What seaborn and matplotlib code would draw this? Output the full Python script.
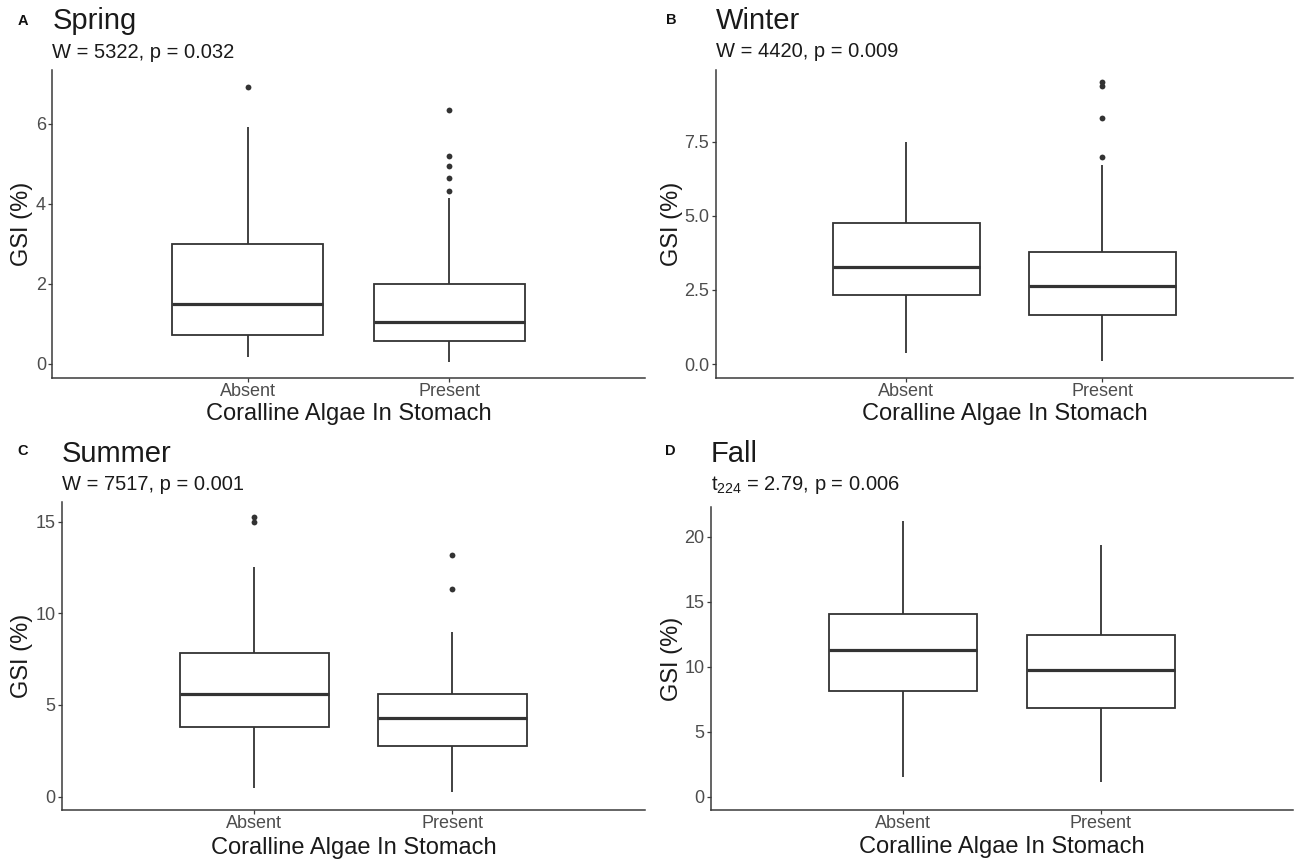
import matplotlib
matplotlib.use("Agg")
import matplotlib.pyplot as plt
import numpy as np
import pandas as pd
import seaborn as sns

# ---- data: five-number summaries (lower whisker, Q1, median, Q3, upper whisker) ----
GROUPS = ["Absent", "Present"]

spring_absent = [0.18, 0.72, 1.50, 2.99, 5.93]
spring_present = [0.06, 0.575, 1.06, 2.00, 4.14]
spring_absent_out = [6.93]
spring_present_out = [4.32, 4.65, 4.95, 5.20, 6.35]

winter_absent = [0.36, 2.32, 3.28, 4.77, 7.50]
winter_present = [0.11, 1.64, 2.64, 3.78, 6.71]
winter_absent_out = []
winter_present_out = [6.99, 8.30, 9.38, 9.50]

summer_absent = [0.46, 3.82, 5.59, 7.86, 12.51]
summer_present = [0.27, 2.78, 4.29, 5.59, 9.00]
summer_absent_out = [14.97, 15.24]
summer_present_out = [11.31, 13.17]

fall_absent = [1.49, 8.13, 11.28, 14.03, 21.23]
fall_present = [1.15, 6.85, 9.72, 12.44, 19.36]
fall_absent_out = []
fall_present_out = []

letters = ["A", "B", "C", "D"]
seasons = ["Spring", "Winter", "Summer", "Fall"]
stats_text = ["W = 5322, p = 0.032", "W = 4420, p = 0.009",
              "W = 7517, p = 0.001", r"t$_{\mathregular{224}}$ = 2.79, p = 0.006"]
yticks = [[0, 2, 4, 6], [0.0, 2.5, 5.0, 7.5], [0, 5, 10, 15], [0, 5, 10, 15, 20]]
ytick_fmt = ["{:.0f}", "{:.1f}", "{:.0f}", "{:.0f}"]
ylims = [(-0.36, 7.35), (-0.48, 9.92), (-0.73, 16.09), (-1.02, 22.26)]

summaries = [(spring_absent, spring_present), (winter_absent, winter_present),
             (summer_absent, summer_present), (fall_absent, fall_present)]
outliers = [(spring_absent_out, spring_present_out), (winter_absent_out, winter_present_out),
            (summer_absent_out, summer_present_out), (fall_absent_out, fall_present_out)]

# ---- style ----
sns.set_theme(style="ticks")
plt.rcParams["font.family"] = ["Liberation Sans", "DejaVu Sans"]
plt.rcParams["mathtext.fontset"] = "custom"
plt.rcParams["mathtext.rm"] = "Liberation Sans"
plt.rcParams["mathtext.it"] = "Liberation Sans:italic"

EDGE = "#333333"
AXIS = "#3a3a3a"
TICKTXT = "#4d4d4d"

W, H = 1295, 859
fig = plt.figure(figsize=(W / 100, H / 100), dpi=100)
fig.patch.set_facecolor("white")

# panel boxes in pixels: left, right, top, bottom
boxes = [(52.3, 645, 70, 378.3), (715.7, 1293, 70, 378.3),
         (61.7, 645, 501.7, 810), (711, 1293, 507.3, 810)]
letter_pos = [(23, 25), (671, 24), (23, 455), (670, 455)]
title_base = [29.3, 29.3, 461.7, 461.7]
sub_base = [58.3, 57.3, 490, 490]
ylab_x = [-0.0326, -0.0566, -0.050, -0.048]
xlab_y = [-0.080, -0.080, -0.086, -0.086]


def fx(px):
    return px / W


def fy(py):
    return 1 - py / H


for i in range(4):
    l, r, t, b = boxes[i]
    ax = fig.add_axes([fx(l), fy(b), (r - l) / W, (b - t) / H])
    ax.set_facecolor("white")

    absent, present = summaries[i]
    df = pd.DataFrame({
        "group": ["Absent"] * len(absent) + ["Present"] * len(present),
        "gsi": list(absent) + list(present),
    })
    sns.boxplot(data=df, x="group", y="gsi", order=GROUPS, whis=(0, 100),
                width=0.75, color="white", linecolor=EDGE, linewidth=1.3,
                showcaps=False, medianprops=dict(linewidth=2.3), ax=ax)

    out_a, out_p = outliers[i]
    if len(out_a) + len(out_p) > 0:
        odf = pd.DataFrame({
            "group": ["Absent"] * len(out_a) + ["Present"] * len(out_p),
            "gsi": list(out_a) + list(out_p),
        })
        sns.stripplot(data=odf, x="group", y="gsi", order=GROUPS, jitter=False,
                      color=EDGE, size=4.2, linewidth=0, ax=ax)

    ax.set_xlim(-0.972, 1.972)
    ax.set_ylim(*ylims[i])
    ax.set_yticks(yticks[i])
    ax.set_yticklabels([ytick_fmt[i].format(v) for v in yticks[i]])

    sns.despine(ax=ax)
    for s in ["left", "bottom"]:
        ax.spines[s].set_color(AXIS)
        ax.spines[s].set_linewidth(1.1)
    ax.tick_params(axis="both", colors=AXIS, labelcolor=TICKTXT, labelsize=13,
                   length=2.6, width=0.9, direction="out")
    ax.tick_params(axis="x", pad=1.0)
    ax.tick_params(axis="y", pad=2.0)

    ax.set_xlabel("Coralline Algae In Stomach", fontsize=17, color="#1a1a1a")
    ax.set_ylabel("GSI (%)", fontsize=17, color="#1a1a1a")
    ax.xaxis.set_label_coords(0.5, xlab_y[i])
    ax.yaxis.set_label_coords(ylab_x[i], 0.5)

    # panel letter, title and test statistic
    lx, ly = letter_pos[i]
    fig.text(fx(lx), fy(ly), letters[i], fontsize=10.5, fontweight="bold",
             ha="center", va="baseline", color="#111111")
    fig.text(fx(l), fy(title_base[i]), seasons[i], fontsize=21,
             ha="left", va="baseline", color="#1a1a1a")
    fig.text(fx(l), fy(sub_base[i]), stats_text[i], fontsize=14.5,
             ha="left", va="baseline", color="#1a1a1a")

fig.savefig("out.png", dpi=100, facecolor="white")
